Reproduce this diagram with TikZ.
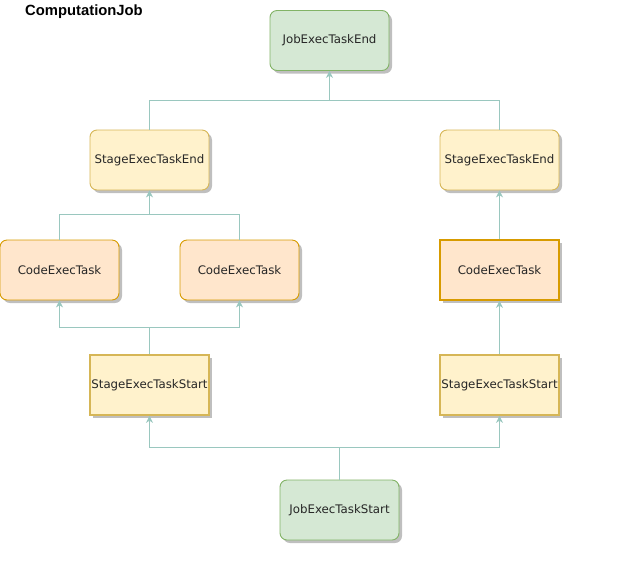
\documentclass[tikz,border=0pt]{standalone}
\usepackage{fontspec}
\setmainfont{DejaVu Sans}
\newfontfamily\titlefont{Liberation Sans}
\usetikzlibrary{arrows.meta,shadows}
\definecolor{gfill}{HTML}{D5E8D4}
\definecolor{gline}{HTML}{82B366}
\definecolor{yfill}{HTML}{FFF2CC}
\definecolor{yline}{HTML}{D6B656}
\definecolor{ofill}{HTML}{FFE6CC}
\definecolor{oline}{HTML}{D79B00}
\definecolor{link}{HTML}{9AC7BF}
\tikzset{
  box/.style={minimum width=119pt, minimum height=60pt, inner sep=0pt,
    font=\fontsize{11.8}{13}\selectfont, text=black!85,
    drop shadow={shadow xshift=3pt, shadow yshift=-3pt, fill=black!25, opacity=1}},
  roundbox/.style={box, rounded corners=7pt, line width=0.9pt},
  sharpbox/.style={box, line width=1.8pt},
  jobbox/.style={roundbox, fill=gfill, draw=gline},
  stagebox/.style={roundbox, fill=yfill, draw=yline},
  stagestart/.style={sharpbox, fill=yfill, draw=yline},
  codebox/.style={roundbox, fill=ofill, draw=oline},
  codestrong/.style={sharpbox, fill=ofill, draw=oline},
  conn/.style={draw=link, line width=0.9pt},
  arr/.style={conn, -{Stealth[length=7pt,width=7pt]}},
}
\begin{document}
\begin{tikzpicture}[x=1pt,y=-1pt]
\useasboundingbox (0,0) rectangle (629,566);
\node[anchor=west, inner sep=0pt, font=\titlefont\bfseries\fontsize{14.8}{16}\selectfont] (title) at (25,12) {ComputationJob};

\node[jobbox] (jend) at (329.5,40.5) {JobExecTaskEnd};
\node[stagebox] (send1) at (149.5,160) {StageExecTaskEnd};
\node[stagebox] (send2) at (499.5,160) {StageExecTaskEnd};
\node[codebox] (code1) at (59.5,270) {CodeExecTask};
\node[codebox] (code2) at (239.5,270) {CodeExecTask};
\node[codestrong] (code3) at (499.5,270) {CodeExecTask};
\node[stagestart] (sstart1) at (149.5,385) {StageExecTaskStart};
\node[stagestart] (sstart2) at (499.5,385) {StageExecTaskStart};
\node[jobbox] (jstart) at (339.5,510) {JobExecTaskStart};

\coordinate (jsplit) at (339.5,447);
\coordinate (ssplit) at (149.5,327);
\coordinate (cjoin) at (149.5,214);
\coordinate (ejoin) at (329.5,100);

% job start fans out to both stages
\draw[conn] (jstart.north) -- (jsplit);
\draw[arr] (jsplit) -| (sstart1.south);
\draw[arr] (jsplit) -| (sstart2.south);

% left stage: start fans out to two code tasks
\draw[conn] (sstart1.north) -- (ssplit);
\draw[arr] (ssplit) -| (code1.south);
\draw[arr] (ssplit) -| (code2.south);

% left stage: code tasks join into stage end
\draw[conn] (code1.north) |- (cjoin);
\draw[conn] (code2.north) |- (cjoin);
\draw[arr] (cjoin) -- (send1.south);

% right stage
\draw[arr] (sstart2.north) -- (code3.south);
\draw[arr] (code3.north) -- (send2.south);

% both stage ends join into job end
\draw[conn] (send1.north) |- (ejoin);
\draw[conn] (send2.north) |- (ejoin);
\draw[arr] (ejoin) -- (jend.south);
\end{tikzpicture}
\end{document}
